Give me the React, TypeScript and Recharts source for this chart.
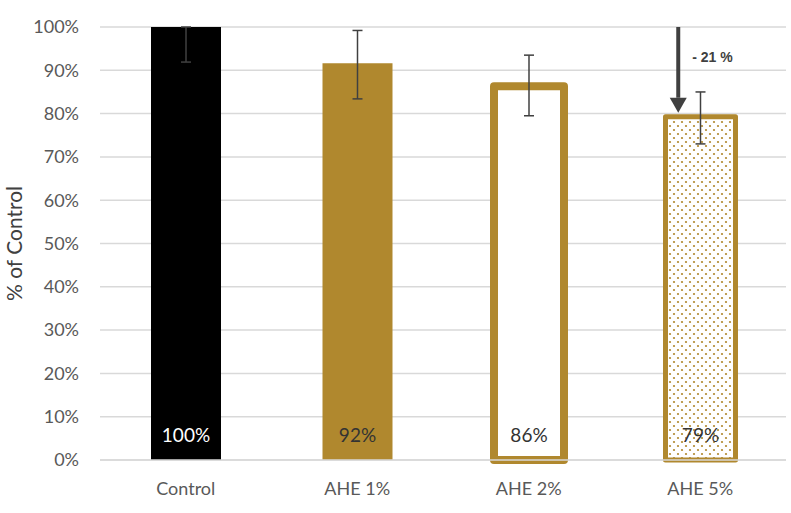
import React from 'react';
import {
  BarChart,
  Bar,
  XAxis,
  YAxis,
  CartesianGrid,
  Cell,
  ErrorBar,
  LabelList,
  ReferenceLine,
} from 'recharts';

// values (% of control)
const groups = ['Control', 'AHE 1%', 'AHE 2%', 'AHE 5%'];
const means = [100, 91.6, 86.3, 79.3];
const errLow = [8.1, 8.2, 6.8, 6.3];
const errHigh = [0, 7.6, 7.2, 5.7];
const barLabels = ['100%', '92%', '86%', '79%'];
const yTicks = [0, 10, 20, 30, 40, 50, 60, 70, 80, 90, 100];
const dropText = '- 21 %';

const GOLD = '#B0882E';
const DARK = '#404040';
const FONT = 'Lato, "Open Sans", sans-serif';

const data = groups.map((g, i) => ({
  group: g,
  value: means[i],
  err: [errLow[i], errHigh[i]],
  label: barLabels[i],
}));

const barStyles = [
  { fill: '#000000', stroke: 'none', strokeWidth: 0 },
  { fill: GOLD, stroke: 'none', strokeWidth: 0 },
  { fill: '#ffffff', stroke: GOLD, strokeWidth: 8 },
  { fill: 'url(#dots)', stroke: GOLD, strokeWidth: 5 },
];

const BarLabel = (props: any) => {
  const { x, y, width, height, index } = props;
  const cx = x + width / 2;
  const bottom = y + height;
  return (
    <text
      x={cx}
      y={bottom - 18}
      textAnchor="middle"
      fontFamily={FONT}
      fontSize={19}
      fill={index === 0 ? '#ffffff' : '#333333'}
    >
      {barLabels[index]}
    </text>
  );
};

// arrow drawn next to the last bar, pointing down to its top
const DropArrow = (props: any) => {
  const { x1, y1, y2 } = props;
  const x = x1 - 22;
  const head = 15;
  return (
    <g>
      <line x1={x} y1={y1} x2={x} y2={y2 - head} stroke={DARK} strokeWidth={4} />
      <polygon
        points={`${x - 8.5},${y2 - head} ${x + 8.5},${y2 - head} ${x},${y2}`}
        fill={DARK}
      />
      <text
        x={x + 14}
        y={y1 + 35}
        fontFamily="'Liberation Sans', Arial, sans-serif"
        fontWeight="bold"
        fontSize={14}
        fill={DARK}
      >
        {dropText}
      </text>
    </g>
  );
};

const App: React.FC = () => {
  return (
    <div style={{ position: 'absolute', left: 0, top: 0, width: 791, height: 513, background: '#fff' }}>
      <BarChart
        width={791}
        height={513}
        data={data}
        margin={{ top: 27, right: 5, bottom: 0, left: 0 }}
        barCategoryGap={0}
      >
        <defs>
          <pattern id="dots" width="8" height="8" patternUnits="userSpaceOnUse">
            <rect width="8" height="8" fill="#ffffff" />
            <circle cx="2" cy="2" r="1.1" fill={GOLD} />
            <circle cx="6" cy="6" r="1.1" fill={GOLD} />
          </pattern>
        </defs>
        <CartesianGrid vertical={false} stroke="#d9d9d9" strokeWidth={1.5} />
        <XAxis
          dataKey="group"
          height={53}
          axisLine={{ stroke: '#d9d9d9', strokeWidth: 1.5 }}
          tickLine={false}
          tickSize={0}
          tickMargin={22}
          tick={{ fontFamily: FONT, fontSize: 18, fill: '#595959' }}
        />
        <YAxis
          width={100}
          domain={[0, 100]}
          ticks={yTicks}
          tickFormatter={(v: number) => `${v}%`}
          axisLine={false}
          tickLine={false}
          tickSize={0}
          tickMargin={21}
          tick={{ fontFamily: FONT, fontSize: 18, fill: '#595959' }}
          label={{
            value: '% of Control',
            angle: -90,
            position: 'insideLeft',
            offset: 15,
            style: { fontFamily: FONT, fontSize: 21, fill: DARK, textAnchor: 'middle' },
          }}
        />
        <Bar dataKey="value" barSize={70} isAnimationActive={false}>
          {data.map((d, i) => (
            <Cell
              key={d.group}
              fill={barStyles[i].fill}
              stroke={barStyles[i].stroke}
              strokeWidth={barStyles[i].strokeWidth}
              strokeLinejoin="round"
            />
          ))}
          <ErrorBar dataKey="err" width={5} stroke={DARK} strokeWidth={1.5} direction="y" />
          <LabelList dataKey="label" content={BarLabel} />
        </Bar>
        <ReferenceLine
          segment={[
            { x: 'AHE 5%', y: 100 },
            { x: 'AHE 5%', y: 80.2 },
          ]}
          shape={DropArrow}
        />
      </BarChart>
    </div>
  );
};

export default App;
